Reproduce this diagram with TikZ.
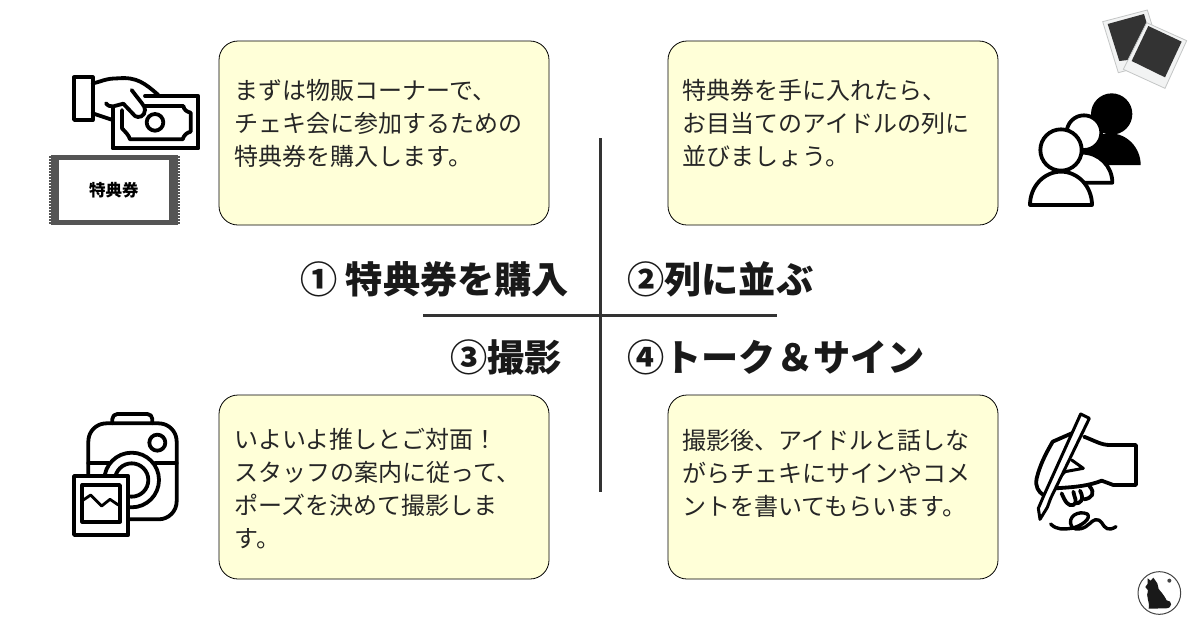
\documentclass[tikz,border=0pt]{standalone}
\usepackage{fontspec}
\setmainfont{Noto Sans CJK JP}
\definecolor{boxfill}{HTML}{FFFFD8}
\definecolor{ticketgray}{HTML}{555555}
\definecolor{photodark}{HTML}{333333}
\definecolor{photoedge}{HTML}{C4C6C6}
\definecolor{photopaper}{HTML}{F2F3F3}
\definecolor{catgray}{HTML}{444444}
\tikzset{
  box/.style={draw=black,line width=.8pt,fill=boxfill,rounded corners=19pt,minimum width=330pt,minimum height=184pt,inner sep=0pt},
  boxtext/.style={anchor=north west,align=left,inner sep=0pt,font=\fontsize{24pt}{33pt}\selectfont,text=black!85},
  heading/.style={anchor=west,inner sep=0pt,font=\fontsize{37.2pt}{40pt}\selectfont\bfseries,text=black!90},
  axis/.style={draw=black!80,line width=3pt},
  icon/.style={draw=black,line width=3.8pt,line join=round,line cap=round},
  photo/.style={draw=photoedge,line width=.8pt,fill=photopaper}
}
\begin{document}
\begin{tikzpicture}[x=1pt,y=-1pt]
  \useasboundingbox (0,0) rectangle (1200,630);
  \fill[white] (0,0) rectangle (1200,630);

  \coordinate (top) at (600,138);
  \coordinate (bottom) at (600,492);
  \coordinate (left) at (423,315);
  \coordinate (right) at (777,315);
  \draw[axis] (top) -- (bottom);
  \draw[axis] (left) -- (right);

  \node[box] (b1) at (384,133) {};
  \node[box] (b2) at (833,133) {};
  \node[box] (b3) at (384,487) {};
  \node[box] (b4) at (833,487) {};

  \node[boxtext] (t1) at (234.5,79) {まずは物販コーナーで、\\チェキ会に参加するための\\特典券を購入します。};
  \node[boxtext] (t2) at (682.5,79) {特典券を手に入れたら、\\お目当てのアイドルの列に\\並びましょう。};
  \node[boxtext] (t3) at (234.5,428.5) {いよいよ推しとご対面！\\スタッフの案内に従って、\\ポーズを決めて撮影しま\\す。};
  \node[boxtext] (t4) at (682.5,429.5) {撮影後、アイドルと話しな\\がらチェキにサインやコメ\\ントを書いてもらいます。};

  \node[heading] (h1) at (300,279) {① 特典券を購入};
  \node[heading] (h2) at (627,279) {②列に並ぶ};
  \node[heading] (h3) at (450,357) {③撮影};
  \node[heading] (h4) at (627,357) {④トーク＆サイン};

  % money
  \begin{scope}[shift={(30,60)},scale=1/3]
    \draw[icon] (132,52) rectangle (188,180);
    \draw[icon] (188,70) .. controls (215,65) and (225,55) .. (265,55) .. controls (320,50) and (345,70) .. (385,105);
    \draw[icon] (188,160) -- (248,180);
    \draw[icon] (345,108) -- (505,108) -- (505,265) -- (248,265) -- (248,142);
    \draw[icon] (345,138) -- (460,138) .. controls (462,150) and (470,155) .. (482,158) -- (482,215) .. controls (470,218) and (462,225) .. (458,238) -- (300,238) .. controls (296,225) and (288,218) .. (276,205) -- (276,150);
    \draw[icon] (375,187) circle (25);
    \draw[icon,fill=white] (228,130) .. controls (235,138) and (240,140) .. (250,139) -- (280,131) -- (315,168) .. controls (325,175) and (345,170) .. (345,150) .. controls (345,138) and (335,130) .. (305,90);
    % ticket
    \fill[ticketgray] (62,285) rectangle (443,495);
    \foreach \y in {288,297,...,486} {
      \fill[ticketgray] (56,\y) rectangle (64,\y+5);
      \fill[ticketgray] (441,\y) rectangle (449,\y+5);
    }
    \fill[white] (88,300) rectangle (418,480);
    \node[inner sep=0pt,font=\fontsize{16.5pt}{18pt}\selectfont\bfseries] (ticket) at (252,391) {特典券};
  \end{scope}

  % photos
  \begin{scope}[shift={(1010,0)},scale=1/3]
    \draw[photo] (278,65) -- (412,30) -- (459,183) -- (325,218) -- cycle;
    \fill[photodark] (293,72) -- (402,42) -- (440,170) -- (328,183) -- cycle;
    \draw[photo] (410,68) -- (530,122) -- (465,265) -- (340,208) -- cycle;
    \fill[photodark] (415,78) -- (515,125) -- (465,232) -- (365,183) -- cycle;
    % people
    \fill[black] (300,495) -- (208,495) arc[start angle=180,end angle=360,x radius=92,y radius=95] -- cycle;
    \fill[black] (305,342) circle (62);
    \draw[icon,fill=white] (127,548) arc[start angle=180,end angle=360,x radius=90,y radius=90] -- cycle;
    \draw[icon,fill=white] (222,398) circle (52);
    \draw[icon,fill=white] (60,615) arc[start angle=180,end angle=360,x radius=93,y radius=100] -- cycle;
    \draw[icon,fill=white] (153,450) circle (62);
  \end{scope}

  % camera
  \begin{scope}[shift={(50,400)},scale=1/3]
    \draw[icon,rounded corners=5pt] (187,70) -- (187,42) -- (307,42) -- (307,70);
    \draw[icon,rounded corners=18pt] (115,70) rectangle (380,358);
    \draw[icon] (322,128) circle (24);
    \draw[icon] (115,190) -- (175,190);
    \draw[icon] (315,190) -- (380,190);
    \draw[icon] (245,240) circle (82);
    \draw[icon] (245,240) circle (50);
    \draw[icon,fill=white] (72,228) rectangle (235,405);
    \draw[icon] (97,255) rectangle (210,365);
    \draw[icon,line width=2.8pt] (100,300) -- (122,285) -- (155,318) -- (180,298) -- (205,315);
  \end{scope}

  % signing hand
  \begin{scope}[shift={(1010,400)},scale=1/3]
    \draw[icon] (185,100) -- (128,125) .. controls (105,165) and (90,195) .. (80,235) .. controls (75,260) and (85,275) .. (100,285);
    \draw[icon] (222,110) .. controls (260,125) and (275,135) .. (300,135) -- (378,135) -- (378,255) -- (310,255) -- (275,242) .. controls (230,260) and (180,262) .. (135,265);
    \draw[icon,line width=3pt] (185,180) -- (220,205) -- (165,215) -- (130,250);
    \draw[icon] (155,280) .. controls (165,305) and (175,320) .. (190,315) .. controls (205,308) and (192,290) .. (190,275);
    \draw[icon] (195,310) .. controls (210,312) and (225,300) .. (210,272);
    \draw[icon] (222,298) .. controls (245,295) and (258,280) .. (238,258);
    \draw[icon,line width=3pt,fill=white] (212,42) -- (238,55) -- (122,295) -- (112,322) -- (90,358) -- (85,325) -- (100,290) -- cycle;
    \draw[icon,line width=3.4pt] (122,372) .. controls (140,390) and (160,388) .. (185,385) .. controls (215,378) and (245,355) .. (232,342) .. controls (205,330) and (170,350) .. (185,380) .. controls (200,395) and (225,385) .. (240,370) .. controls (250,360) and (262,352) .. (275,368) .. controls (285,385) and (295,395) .. (318,380);
  \end{scope}

  % cat logo
  \begin{scope}[shift={(1130,565)},scale=1/3]
    \draw[draw=catgray,line width=1pt,fill=white] (88,84) circle (64);
    \fill[catgray] (118,47) circle (6);
    \fill[black!90] (53,40) -- (62,47) -- (70,38) -- (82,55) -- (86,72) .. controls (100,88) and (106,98) .. (110,106) .. controls (128,106) and (128,130) .. (108,130) -- (56,131) .. controls (60,108) and (46,95) .. (54,76) -- (46,66) -- (53,56) -- cycle;
  \end{scope}
\end{tikzpicture}
\end{document}
